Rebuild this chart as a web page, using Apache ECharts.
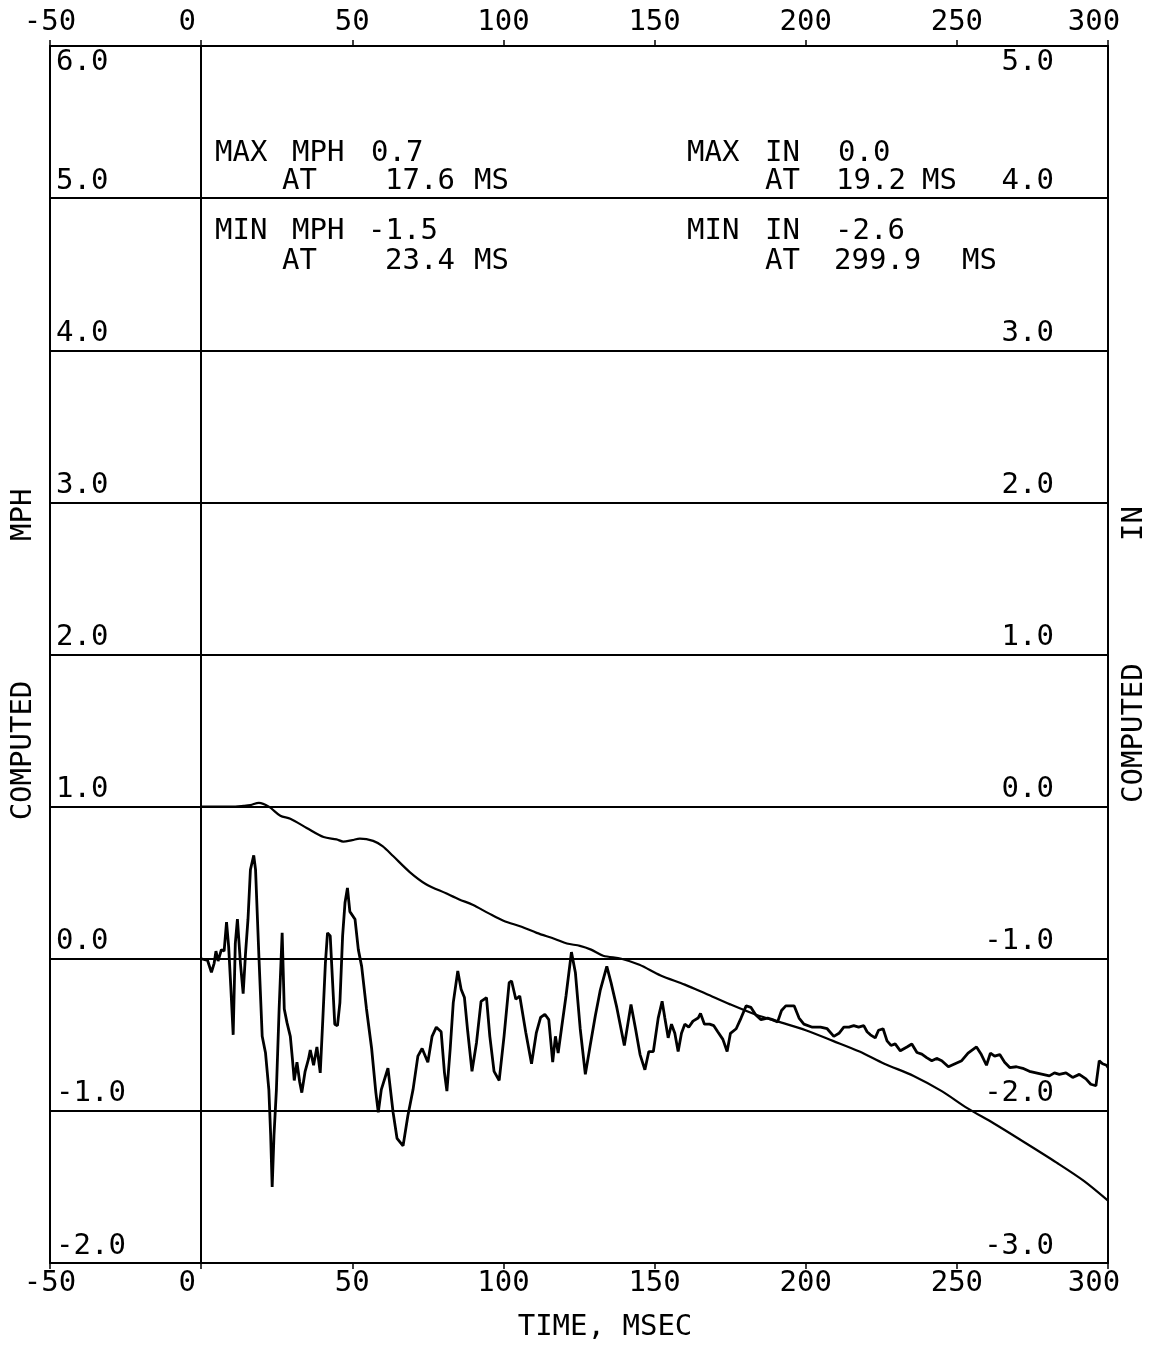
<!DOCTYPE html>
<html>
<head>
<meta charset="utf-8">
<script src="https://cdn.jsdelivr.net/npm/echarts@6/dist/echarts.min.js"></script>
<style>
html,body{margin:0;padding:0;background:#fff;overflow:hidden;}
#chart{width:1157px;height:1347px;}
</style>
</head>
<body>
<div id="chart"></div>
<script>
// ---- data (time in ms) ----
const xTicks = [-50, 0, 50, 100, 150, 200, 250, 300];

const mphTime = [0,2.1,3.4,4.3,4.9,5.6,6.7,7.6,8.4,9.1,9.8,10.6,11.3,12.0,13.0,13.9,14.7,15.5,16.3,17.4,18.0,19.1,20.2,21.3,22.4,23.0,23.5,24.1,24.9,25.8,26.8,27.5,28.4,29.5,30.2,30.8,31.7,32.6,33.3,34.4,35.5,36.1,37.2,38.3,39.4,40.2,41.1,41.8,42.7,43.5,44.2,45.1,45.9,46.8,47.6,48.4,49.2,50.9,52.0,53.1,54.7,56.4,57.8,58.6,59.6,61.8,63.5,64.8,66.8,68.4,70.1,
71.7,73.1,75.0,76.4,77.8,79.4,80.5,81.3,82.4,83.4,84.9,86.0,87.1,88.2,89.6,91.1,92.6,94.4,95.5,96.9,98.6,100.2,101.9,102.7,104.1,105.4,107.4,109.3,110.9,112.3,113.7,115.0,116.3,117.2,118.1,119.2,120.7,122.5,123.8,125.4,127.1,128.7,130.4,132.0,134.2,135.6,137.5,140.0,142.2,
143.7,145.2,146.8,148.1,149.6,151.2,152.5,153.4,154.5,155.6,156.7,157.8,158.9,160.0,161.3,162.7,164.4,165.2,166.5,168.2,169.6,170.9,172.6,174.0,175.1,177.0,178.6,180.3,181.9,183.5,185.2,187.4,189.0,190.7,192.0,193.4,196.2,197.8,199.4,202.2,204.9,207.1,209.3,211.0,212.6,214.3,215.9,217.5,219.2,220.3,
221.4,223.0,224.1,225.6,226.9,228.2,229.6,231.3,233.5,235.1,236.8,238.4,240.0,241.7,243.3,245.0,247.2,249.4,251.6,253.7,256.5,258.1,259.8,261.1,262.5,264.2,265.8,267.5,269.7,271.8,274.0,276.2,278.4,280.6,282.3,283.9,286.1,288.3,290.5,292.7,294.3,296.0,297.1,298.2,299.5,300];

const mphValue = [0,-0.01,-0.09,-0.03,0.05,-0.015,0.06,0.05,0.24,0.08,-0.18,-0.50,0.10,0.26,-0.03,-0.23,0.04,0.26,0.585,0.68,0.585,0.02,-0.51,-0.62,-0.86,-1.16,-1.50,-1.16,-0.86,-0.33,0.17,-0.33,-0.42,-0.51,-0.66,-0.80,-0.68,-0.81,-0.88,-0.74,-0.66,-0.60,-0.70,-0.58,-0.75,-0.42,-0.03,0.17,0.15,-0.16,-0.43,-0.44,-0.29,0.15,0.37,0.465,0.31,0.26,0.06,-0.05,-0.33,-0.59,-0.88,-1.01,-0.86,-0.72,-1.01,-1.18,-1.23,-1.03,-0.86,
-0.64,-0.59,-0.68,-0.51,-0.45,-0.48,-0.75,-0.87,-0.59,-0.29,-0.08,-0.20,-0.255,-0.48,-0.74,-0.55,-0.28,-0.255,-0.51,-0.74,-0.80,-0.51,-0.157,-0.146,-0.266,-0.245,-0.485,-0.69,-0.485,-0.386,-0.365,-0.40,-0.68,-0.51,-0.62,-0.46,-0.245,0.044,-0.09,-0.46,-0.76,-0.57,-0.375,-0.21,-0.05,-0.157,-0.32,-0.57,-0.30,
-0.46,-0.63,-0.73,-0.61,-0.61,-0.39,-0.28,-0.39,-0.52,-0.43,-0.49,-0.61,-0.49,-0.43,-0.45,-0.41,-0.39,-0.36,-0.43,-0.43,-0.44,-0.48,-0.53,-0.61,-0.49,-0.46,-0.39,-0.31,-0.32,-0.37,-0.40,-0.39,-0.40,-0.415,-0.34,-0.31,-0.31,-0.39,-0.43,-0.45,-0.45,-0.46,-0.51,-0.49,-0.45,-0.45,-0.44,-0.45,-0.44,-0.48,
-0.50,-0.52,-0.47,-0.46,-0.54,-0.57,-0.56,-0.605,-0.58,-0.56,-0.616,-0.627,-0.65,-0.67,-0.655,-0.67,-0.71,-0.69,-0.67,-0.62,-0.58,-0.63,-0.70,-0.62,-0.64,-0.63,-0.68,-0.715,-0.71,-0.72,-0.74,-0.75,-0.76,-0.77,-0.75,-0.76,-0.75,-0.78,-0.76,-0.79,-0.825,-0.835,-0.67,-0.69,-0.70,-0.715];

const inTime = [0,5,10,14,16.3,19.1,22.4,26.2,29.5,34.9,40.5,44.8,47,50,52.5,56.9,60,63.5,69,74.4,81,85.4,89.8,95,100,106,111,117,121,125.3,129,133,139,145,152,160,167,175,183.8,192,200,209,217.8,226,235.7,245,253.3,262,271,283,292,300];
const inValue = [0,0,0,0.005,0.01,0.025,0.0,-0.06,-0.08,-0.14,-0.20,-0.215,-0.23,-0.22,-0.21,-0.225,-0.26,-0.325,-0.43,-0.51,-0.57,-0.61,-0.645,-0.70,-0.75,-0.79,-0.83,-0.87,-0.90,-0.915,-0.94,-0.98,-1.0,-1.04,-1.11,-1.17,-1.23,-1.30,-1.37,-1.42,-1.47,-1.54,-1.61,-1.69,-1.77,-1.87,-1.98,-2.08,-2.19,-2.34,-2.46,-2.59];

// annotation texts
const noteTexts = [
  ['MAX','MPH','0.7'], ['AT','17.6','MS'], ['MIN','MPH','-1.5'], ['AT','23.4','MS'],
  ['MAX','IN','0.0'], ['AT','19.2','MS'], ['MIN','IN','-2.6'], ['AT','299.9','MS']
];
</script>
<script>
const FONT = "'DejaVu Sans Mono', monospace";
const FS = 29;
// layout of annotation tokens (pixel positions)
const noteLayout = [
  [[215,153],[292,153],[371,153]],
  [[282,181],[385,181],[474,181]],
  [[215,231],[292,231],[368,231]],
  [[282,261],[385,261],[474,261]],
  [[687,153],[765,153],[838,153]],
  [[765,181],[836,181],[922,181]],
  [[687,231],[765,231],[835,231]],
  [[765,261],[834,261],[962,261]]
];
const graphics = [];
noteTexts.forEach((row, i) => {
  row.forEach((t, j) => {
    const p = noteLayout[i][j];
    graphics.push({
      type: 'text', x: p[0], y: p[1], silent: true,
      style: { text: t, fill: '#000', fontSize: FS, fontFamily: FONT,
               align: 'left', verticalAlign: 'middle', textAlign: 'left', textVerticalAlign: 'middle' }
    });
  });
});

const mphData = mphTime.map((t, i) => [t, mphValue[i]]);
const inData = inTime.map((t, i) => [t, inValue[i]]);

function yFmt(maxV) {
  return function (v) {
    const s = v.toFixed(1);
    return v === maxV ? '{t|' + s + '}' : '{n|' + s + '}';
  };
}
const yRich = {
  n: { fontSize: FS, fontFamily: FONT, color: '#000', padding: [0, 0, 34, 0] },
  t: { fontSize: FS, fontFamily: FONT, color: '#000', padding: [32, 0, 0, 0] }
};

function xFmt(v) {
  if (v === 0 || v === 300) return '{s|' + v + '}';
  return '{n|' + v + '}';
}
const xRich = {
  n: { fontSize: FS, fontFamily: FONT, color: '#000' },
  s: { fontSize: FS, fontFamily: FONT, color: '#000', padding: [0, 28, 0, 0] }
};

const xCommon = {
  type: 'value', min: -50, max: 300, interval: 50,
  axisLine: { show: true, onZero: false, lineStyle: { color: '#000', width: 2 } },
  axisTick: { show: true, length: 6, lineStyle: { color: '#000', width: 1.5 } },
  splitLine: { show: false },
  axisLabel: { color: '#000', fontSize: FS, fontFamily: FONT, showMinLabel: true, showMaxLabel: true,
               formatter: xFmt, rich: xRich }
};

const chart = echarts.init(document.getElementById('chart'), null, { renderer: 'canvas' });
chart.setOption({
  animation: false,
  backgroundColor: '#fff',
  grid: { left: 50, right: 42, top: 46, bottom: 81, containLabel: false },
  xAxis: [
    Object.assign({}, xCommon, {
      position: 'bottom',
      name: 'TIME, MSEC', nameLocation: 'middle', nameGap: 50,
      nameTextStyle: { color: '#000', fontSize: FS, fontFamily: FONT, padding: [0, 0, 0, 52] },
      axisLabel: Object.assign({}, xCommon.axisLabel, { margin: 6 })
    }),
    Object.assign({}, xCommon, {
      position: 'top',
      axisLabel: Object.assign({}, xCommon.axisLabel, { margin: 9 })
    })
  ],
  yAxis: [
    {
      type: 'value', min: -2, max: 6, interval: 1, position: 'left',
      name: 'COMPUTED        MPH', nameLocation: 'middle', nameRotate: 90, nameGap: 12,
      nameTextStyle: { color: '#000', fontSize: FS, fontFamily: FONT },
      axisLine: { show: true, onZero: false, lineStyle: { color: '#000', width: 2 } },
      axisTick: { show: false },
      splitLine: { show: true, lineStyle: { color: '#000', width: 2 } },
      axisLabel: { inside: true, margin: 6, align: 'left', verticalAlign: 'middle',
                   showMinLabel: true, showMaxLabel: true,
                   formatter: yFmt(6), rich: yRich }
    },
    {
      type: 'value', min: -3, max: 5, interval: 1, position: 'right',
      name: 'COMPUTED       IN', nameLocation: 'middle', nameRotate: 90, nameGap: 12,
      nameTextStyle: { color: '#000', fontSize: FS, fontFamily: FONT },
      axisLine: { show: true, onZero: false, lineStyle: { color: '#000', width: 2 } },
      axisTick: { show: false },
      splitLine: { show: false },
      axisLabel: { inside: true, margin: 54, align: 'right', verticalAlign: 'middle',
                   showMinLabel: true, showMaxLabel: true,
                   formatter: yFmt(5), rich: yRich }
    }
  ],
  series: [
    {
      name: 'MPH', type: 'line', xAxisIndex: 0, yAxisIndex: 0, data: mphData,
      showSymbol: false, symbol: 'none', smooth: false, silent: true,
      lineStyle: { color: '#000', width: 2.8 },
      markLine: {
        silent: true, symbol: 'none', label: { show: false },
        lineStyle: { color: '#000', width: 2, type: 'solid' },
        data: [{ xAxis: 0 }]
      }
    },
    {
      name: 'IN', type: 'line', xAxisIndex: 0, yAxisIndex: 1, data: inData,
      showSymbol: false, symbol: 'none', smooth: 0.3, silent: true,
      lineStyle: { color: '#000', width: 2.2 }
    }
  ],
  graphic: graphics
});
</script>
</body>
</html>
